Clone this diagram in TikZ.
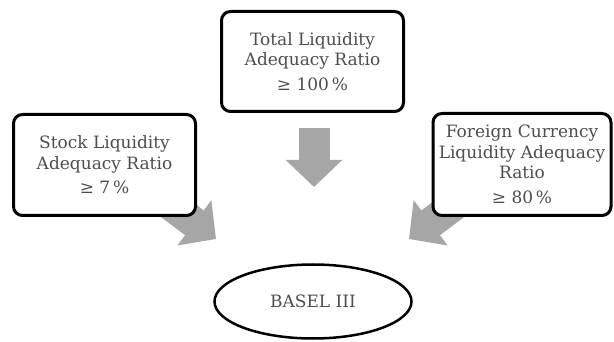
\documentclass[tikz,border=0pt]{standalone}
\usepackage{fontspec}
\setmainfont{DejaVu Serif}
\usetikzlibrary{arrows.meta,shapes.geometric,backgrounds}
\definecolor{txtgray}{HTML}{4D4D4D}
\definecolor{arrgray}{HTML}{A6A6A6}
\tikzset{
  ratiobox/.style={draw=black, line width=3pt, rounded corners=9pt, fill=white,
    align=center, text=txtgray, font=\fontsize{17}{20.5}\selectfont, inner sep=0pt},
  blockarrow/.style={draw=arrgray, line width=31pt,
    -{Triangle[length=27pt,width=55pt]}, color=arrgray},
}
\begin{document}
\begin{tikzpicture}[x=1pt,y=-1pt]
\useasboundingbox (0,0) rectangle (614,342);
\node[ratiobox, minimum width=182pt, minimum height=100pt] (total) at (312.5,61.5)
  {Total Liquidity\\Adequacy Ratio\\[4pt]≥ 100\,\%};
\node[ratiobox, minimum width=182pt, minimum height=101pt] (stock) at (104.5,165)
  {Stock Liquidity\\Adequacy Ratio\\[4pt]≥ 7\,\%};
\node[ratiobox, minimum width=178pt, minimum height=102pt] (foreign) at (522,164.5)
  {Foreign Currency\\Liquidity Adequacy\\Ratio\\[4pt]≥ 80\,\%};
\node[ellipse, draw=black, line width=2.5pt, minimum width=197pt, minimum height=74pt,
  inner sep=0pt, text=txtgray, font=\fontsize{17}{20}\selectfont] (basel) at (313,301.5) {BASEL III};
\coordinate (tA) at (314,128);
\coordinate (tB) at (314,187);
\coordinate (sA) at (160,197);
\coordinate (sB) at (216,239);
\coordinate (fA) at (465,197);
\coordinate (fB) at (409,239);
\begin{scope}[on background layer]
\draw[blockarrow] (tA) -- (tB);
\draw[blockarrow] (sA) -- (sB);
\draw[blockarrow] (fA) -- (fB);
\end{scope}
\end{tikzpicture}
\end{document}
